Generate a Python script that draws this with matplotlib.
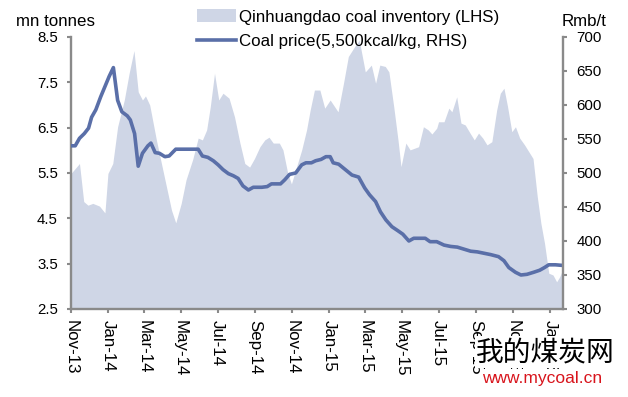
"""Qinhuangdao coal inventory vs coal price."""

import matplotlib
matplotlib.use("Agg")
import matplotlib.pyplot as plt
import matplotlib.dates as mdates
from matplotlib.patches import Patch
from matplotlib.lines import Line2D
import pandas as pd

inv_dates = [
    "2013-11-01", "2013-11-15", "2013-11-22", "2013-11-29", "2013-12-07", "2013-12-18",
    "2013-12-27", "2014-01-01", "2014-01-09", "2014-01-17", "2014-01-28", "2014-02-05",
    "2014-02-13", "2014-02-20", "2014-02-27", "2014-03-04", "2014-03-11", "2014-03-22",
    "2014-04-04", "2014-04-16", "2014-04-23", "2014-05-02", "2014-05-10", "2014-05-21",
    "2014-05-30", "2014-06-06", "2014-06-13", "2014-06-19", "2014-06-26", "2014-07-03",
    "2014-07-10", "2014-07-20", "2014-07-29", "2014-08-07", "2014-08-15", "2014-08-23",
    "2014-08-31", "2014-09-09", "2014-09-17", "2014-09-24", "2014-10-01", "2014-10-11",
    "2014-10-17", "2014-10-25", "2014-10-31", "2014-11-07", "2014-11-17", "2014-11-25",
    "2014-12-01", "2014-12-08", "2014-12-17", "2014-12-25", "2015-01-03", "2015-01-16",
    "2015-01-25", "2015-02-02", "2015-02-13", "2015-02-20", "2015-03-02", "2015-03-12",
    "2015-03-19", "2015-03-26", "2015-04-04", "2015-04-10", "2015-04-18", "2015-04-25",
    "2015-04-30", "2015-05-08", "2015-05-15", "2015-05-29", "2015-06-06", "2015-06-14",
    "2015-06-20", "2015-06-28", "2015-07-01", "2015-07-10", "2015-07-18", "2015-07-23",
    "2015-07-31", "2015-08-07", "2015-08-14", "2015-08-22", "2015-08-29", "2015-09-05",
    "2015-09-12", "2015-09-19", "2015-09-27", "2015-10-05", "2015-10-11", "2015-10-17",
    "2015-10-23", "2015-10-30", "2015-11-05", "2015-11-12", "2015-11-20", "2015-11-27",
    "2015-12-04", "2015-12-11", "2015-12-17", "2015-12-23", "2015-12-30", "2016-01-06",
    "2016-01-12", "2016-01-17", "2016-01-23",
]
inventory = [
    5.49, 5.71, 4.87, 4.79, 4.83, 4.77,
    4.62, 5.49, 5.71, 6.52, 7.11, 7.70,
    8.20, 7.29, 7.11, 7.20, 7.00, 6.23,
    5.42, 4.68, 4.40, 4.83, 5.35, 5.80,
    6.27, 6.23, 6.45, 6.96, 7.70, 7.11,
    7.26, 7.15, 6.74, 6.16, 5.71, 5.63,
    5.82, 6.08, 6.23, 6.29, 6.16, 6.16,
    6.01, 5.49, 5.26, 5.57, 6.01, 6.45,
    6.89, 7.33, 7.33, 6.93, 7.11, 6.85,
    7.48, 8.07, 8.30, 8.43, 7.73, 7.88,
    7.48, 7.88, 7.85, 7.73, 6.96, 6.23,
    5.64, 6.16, 6.01, 6.08, 6.52, 6.45,
    6.36, 6.49, 6.63, 6.63, 6.93, 6.85,
    7.18, 6.60, 6.56, 6.38, 6.23, 6.38,
    6.27, 6.12, 6.19, 6.89, 7.26, 7.37,
    6.96, 6.41, 6.52, 6.27, 6.12, 5.97,
    5.82, 4.98, 4.39, 3.95, 3.29, 3.25,
    3.10, 3.21, 3.40,
]

price_dates = [
    "2013-11-01", "2013-11-08", "2013-11-15", "2013-11-23", "2013-11-30", "2013-12-05",
    "2013-12-12", "2013-12-20", "2013-12-27", "2014-01-03", "2014-01-10", "2014-01-17",
    "2014-01-24", "2014-02-02", "2014-02-07", "2014-02-14", "2014-02-20", "2014-02-27",
    "2014-03-08", "2014-03-13", "2014-03-20", "2014-03-27", "2014-04-05", "2014-04-12",
    "2014-04-23", "2014-05-05", "2014-05-21", "2014-05-30", "2014-06-06", "2014-06-15",
    "2014-06-24", "2014-07-02", "2014-07-10", "2014-07-19", "2014-07-27", "2014-08-04",
    "2014-08-12", "2014-08-21", "2014-08-29", "2014-09-12", "2014-09-21", "2014-09-28",
    "2014-10-13", "2014-10-20", "2014-10-28", "2014-11-07", "2014-11-17", "2014-11-24",
    "2014-12-03", "2014-12-10", "2014-12-19", "2014-12-27", "2015-01-03", "2015-01-08",
    "2015-01-17", "2015-01-28", "2015-02-08", "2015-02-19", "2015-03-01", "2015-03-09",
    "2015-03-19", "2015-03-27", "2015-04-05", "2015-04-15", "2015-04-25", "2015-05-03",
    "2015-05-13", "2015-05-21", "2015-05-29", "2015-06-09", "2015-06-17", "2015-06-28",
    "2015-07-10", "2015-07-21", "2015-08-01", "2015-08-12", "2015-08-23", "2015-09-03",
    "2015-09-14", "2015-09-25", "2015-10-08", "2015-10-17", "2015-10-25", "2015-11-05",
    "2015-11-14", "2015-11-24", "2015-12-05", "2015-12-15", "2015-12-23", "2015-12-30",
    "2016-01-10", "2016-01-23",
]
price = [
    540, 540, 551, 558, 566, 582,
    593, 612, 627, 642, 655, 607,
    590, 584, 578, 558, 510, 529,
    540, 544, 530, 529, 524, 525,
    535, 535, 535, 535, 525, 523,
    518, 512, 505, 499, 496, 492,
    481, 475, 479, 479, 480, 484,
    484, 490, 498, 500, 512, 515,
    515, 518, 520, 524, 524, 515,
    513, 505, 497, 494, 478, 468,
    458, 443, 431, 421, 415, 410,
    400, 404, 404, 404, 399, 399,
    394, 392, 391, 388, 385, 384,
    382, 380, 377, 371, 361, 354,
    350, 351, 354, 357, 361, 365,
    365, 364,
]

tick_dates = pd.date_range("2013-11-01", "2016-01-01", freq="2MS")
inv_label = "Qinhuangdao coal inventory (LHS)"
price_label = "Coal price(5,500kcal/kg, RHS)"

AREA = "#cfd6e6"
LINE = "#5a6fa8"
SPINE = "#8a8a8a"

plt.rcParams["font.family"] = ["Liberation Sans", "DejaVu Sans"]

fig = plt.figure(figsize=(6.28, 3.97), dpi=100)
ax = fig.add_axes([71 / 628, 88 / 397, (563.3 - 71) / 628, 272 / 397])
ax2 = ax.twinx()

inv_x = pd.to_datetime(inv_dates)
ax.fill_between(inv_x, inventory, 2.5, color=AREA, linewidth=0)
ax2.plot(pd.to_datetime(price_dates), price, color=LINE, linewidth=2.6,
         solid_joinstyle="round")

ax.set_xlim(pd.Timestamp("2013-11-01"), pd.Timestamp("2016-01-23"))
ax.set_ylim(2.5, 8.5)
ax.set_yticks([2.5, 3.5, 4.5, 5.5, 6.5, 7.5, 8.5])
ax.set_yticklabels(["2.5", "3.5", "4.5", "5.5", "6.5", "7.5", "8.5"])
ax2.set_ylim(300, 700)
ax2.set_yticks(range(300, 701, 50))

ax.set_xticks(tick_dates)
ax.xaxis.set_major_formatter(mdates.DateFormatter("%b-%y"))
for lbl in ax.get_xticklabels():
    lbl.set_rotation(-90)
    lbl.set_ha("center")
    lbl.set_va("top")
    lbl.set_fontsize(12.2)

for a in (ax, ax2):
    a.spines["top"].set_visible(False)
    for s in ("left", "right", "bottom"):
        a.spines[s].set_color(SPINE)
        a.spines[s].set_linewidth(1.7)
    a.tick_params(axis="y", length=3, width=1.5, color=SPINE, pad=6.5,
                  labelsize=10.8)
ax.tick_params(axis="x", length=3, width=1.5, color=SPINE, pad=5)
ax.spines["right"].set_visible(False)
ax2.spines["left"].set_visible(False)
ax2.spines["bottom"].set_visible(False)

fig.text(16 / 628, 1 - 21 / 397, "mn tonnes", fontsize=12.2, ha="left", va="center")
fig.text(562 / 628, 1 - 21 / 397, "Rmb/t", fontsize=12.2, ha="left", va="center")

handles = [Patch(facecolor=AREA, edgecolor="none"),
           Line2D([0], [0], color=LINE, linewidth=2.6)]
fig.legend(handles, [inv_label, price_label], loc="upper left",
           bbox_to_anchor=(194 / 628, 1 - 6 / 397), frameon=False, fontsize=12.2,
           handlelength=2.3, handleheight=0.8, handletextpad=0.15,
           labelspacing=0.55, borderaxespad=0, borderpad=0.2)

# site watermark, painted over the lower-right tick labels as in the source
wm_box = dict(facecolor="white", edgecolor="none", pad=1.0)
fig.text(476 / 628, 1 - 352 / 397, "我的煤炭网", fontsize=20,
         family=["Noto Sans CJK SC", "DejaVu Sans"], ha="left", va="center",
         color="black", zorder=10, bbox=wm_box)
fig.text(482 / 628, 1 - 378 / 397, "www.mycoal.cn", fontsize=12.5,
         ha="left", va="center", color="#d8141c", zorder=10, bbox=wm_box)

fig.savefig("out.png", dpi=100)
